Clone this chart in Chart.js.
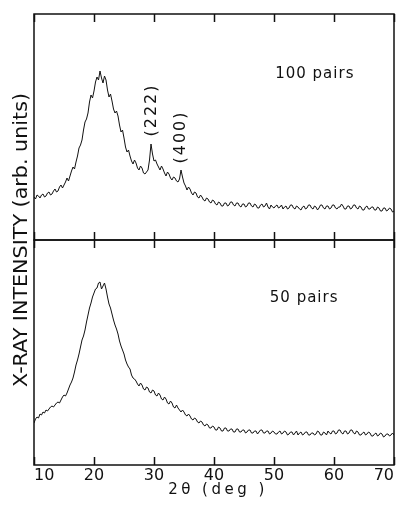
<!DOCTYPE html>
<html>
<head>
<meta charset="utf-8">
<script src="https://cdn.jsdelivr.net/npm/chart.js@4.4.1/dist/chart.umd.min.js"></script>
<style>
  html, body { margin: 0; background: #fff; }
  #wrap { position: relative; width: 403px; height: 507px; overflow: hidden; }
  #wrap canvas { position: absolute; left: 0; top: 0; }
</style>
</head>
<body>
<div id="wrap">
  <canvas id="top" width="403" height="507"></canvas>
  <canvas id="bottom" width="403" height="507"></canvas>
</div>
<script>
// 2theta sampling of the scans (deg)
const angles = [
  10, 10.25, 10.5, 10.75, 11, 11.25, 11.5, 11.75,
  12, 12.25, 12.5, 12.75, 13, 13.25, 13.5, 13.75,
  14, 14.25, 14.5, 14.75, 15, 15.25, 15.5, 15.75,
  16, 16.25, 16.5, 16.75, 17, 17.25, 17.5, 17.75,
  18, 18.25, 18.5, 18.75, 19, 19.25, 19.5, 19.75,
  20, 20.25, 20.5, 20.75, 21, 21.25, 21.5, 21.75,
  22, 22.25, 22.5, 22.75, 23, 23.25, 23.5, 23.75,
  24, 24.25, 24.5, 24.75, 25, 25.25, 25.5, 25.75,
  26, 26.25, 26.5, 26.75, 27, 27.25, 27.5, 27.75,
  28, 28.25, 28.5, 28.75, 29, 29.25, 29.5, 29.75,
  30, 30.25, 30.5, 30.75, 31, 31.25, 31.5, 31.75,
  32, 32.25, 32.5, 32.75, 33, 33.25, 33.5, 33.75,
  34, 34.25, 34.5, 34.75, 35, 35.25, 35.5, 35.75,
  36, 36.25, 36.5, 36.75, 37, 37.25, 37.5, 37.75,
  38, 38.25, 38.5, 38.75, 39, 39.25, 39.5, 39.75,
  40, 40.25, 40.5, 40.75, 41, 41.25, 41.5, 41.75,
  42, 42.25, 42.5, 42.75, 43, 43.25, 43.5, 43.75,
  44, 44.25, 44.5, 44.75, 45, 45.25, 45.5, 45.75,
  46, 46.25, 46.5, 46.75, 47, 47.25, 47.5, 47.75,
  48, 48.25, 48.5, 48.75, 49, 49.25, 49.5, 49.75,
  50, 50.25, 50.5, 50.75, 51, 51.25, 51.5, 51.75,
  52, 52.25, 52.5, 52.75, 53, 53.25, 53.5, 53.75,
  54, 54.25, 54.5, 54.75, 55, 55.25, 55.5, 55.75,
  56, 56.25, 56.5, 56.75, 57, 57.25, 57.5, 57.75,
  58, 58.25, 58.5, 58.75, 59, 59.25, 59.5, 59.75,
  60, 60.25, 60.5, 60.75, 61, 61.25, 61.5, 61.75,
  62, 62.25, 62.5, 62.75, 63, 63.25, 63.5, 63.75,
  64, 64.25, 64.5, 64.75, 65, 65.25, 65.5, 65.75,
  66, 66.25, 66.5, 66.75, 67, 67.25, 67.5, 67.75,
  68, 68.25, 68.5, 68.75, 69, 69.25, 69.5, 69.75,
  70
]

// intensity, arb. units (100 pairs sample)
const pairs100 = [
  43, 41, 45, 44, 42, 45, 46, 43,
  44, 47, 48, 45, 46, 49, 51, 48,
  49, 53, 55, 52, 55, 58, 62, 59,
  64, 69, 73, 71, 78, 84, 92, 95,
  100, 110, 118, 121, 127, 138, 145, 142,
  149, 158, 163, 160, 169, 162, 157, 164,
  160, 150, 143, 146, 139, 131, 127, 129,
  124, 115, 108, 110, 102, 93, 88, 90,
  84, 79, 76, 80, 77, 72, 70, 74,
  72, 67, 66, 68, 70, 80, 96, 86,
  79, 80, 76, 73, 70, 74, 71, 67,
  64, 68, 66, 62, 60, 63, 62, 59,
  58, 61, 70, 63, 57, 54, 50, 53,
  51, 47, 45, 48, 47, 43, 42, 45,
  43, 40, 39, 42, 41, 38, 37, 40,
  39, 36, 35, 38, 37, 34, 34, 37,
  37, 34, 35, 38, 38, 35, 34, 37,
  37, 34, 33, 36, 36, 33, 34, 37,
  37, 34, 33, 36, 35, 32, 32, 35,
  36, 33, 34, 37, 33, 31, 35, 33,
  32, 34, 35, 32, 33, 35, 31, 33,
  34, 31, 32, 35, 35, 32, 31, 34,
  33, 31, 30, 33, 34, 31, 32, 35,
  35, 32, 31, 34, 33, 30, 32, 35,
  35, 32, 31, 34, 34, 31, 32, 35,
  35, 32, 31, 33, 33, 36, 34, 31,
  31, 34, 34, 31, 32, 35, 35, 32,
  31, 34, 33, 30, 30, 33, 34, 31,
  31, 33, 33, 30, 30, 33, 32, 29,
  29, 32, 32, 29, 30, 32, 31, 28,
  29
]

// intensity, arb. units (50 pairs sample)
const pairs50 = [
  42, 46, 48, 47, 51, 50, 53, 52,
  55, 54, 56, 58, 59, 58, 60, 62,
  63, 62, 65, 68, 70, 69, 72, 76,
  80, 83, 87, 93, 100, 105, 111, 118,
  125, 129, 135, 143, 150, 157, 162, 168,
  172, 176, 177, 182, 183, 176, 179, 182,
  176, 168, 161, 157, 151, 145, 140, 136,
  131, 124, 119, 115, 111, 105, 101, 98,
  96, 90, 87, 86, 84, 81, 79, 82,
  80, 76, 75, 78, 77, 73, 72, 75,
  74, 70, 69, 72, 70, 66, 65, 68,
  66, 62, 61, 64, 62, 58, 57, 60,
  57, 55, 53, 55, 53, 50, 49, 51,
  49, 46, 45, 47, 46, 43, 42, 44,
  43, 40, 39, 41, 40, 37, 37, 39,
  38, 35, 35, 38, 37, 34, 34, 37,
  37, 34, 34, 36, 36, 33, 33, 36,
  36, 33, 33, 35, 35, 32, 33, 35,
  35, 32, 32, 34, 34, 31, 33, 35,
  35, 32, 32, 34, 34, 31, 32, 34,
  33, 31, 31, 33, 34, 31, 32, 34,
  33, 30, 31, 33, 33, 30, 32, 34,
  30, 32, 33, 30, 31, 33, 33, 30,
  30, 32, 32, 30, 31, 34, 33, 30,
  30, 33, 32, 30, 34, 32, 31, 34,
  34, 31, 32, 35, 35, 32, 31, 34,
  34, 31, 32, 35, 35, 32, 31, 34,
  33, 30, 30, 32, 33, 30, 31, 33,
  32, 29, 29, 31, 32, 29, 30, 32,
  31, 28, 29, 31, 31, 29, 30, 32,
  30
]

const xTicks = [10, 20, 30, 40, 50, 60, 70]
const xTickLabels = ["10", "20", "30", "40", "50", "60", "70"]

const ink = "#111"
const font = "DejaVu Sans"

// box round each panel with inward ticks top and bottom
const framePlugin = {
  id: "frame",
  afterDraw(chart) {
    const { ctx, chartArea: a } = chart
    const x = chart.scales.x
    ctx.save()
    ctx.strokeStyle = ink
    ctx.lineWidth = 1.5
    ctx.strokeRect(a.left, a.top, a.right - a.left, a.bottom - a.top)
    ctx.beginPath()
    xTicks.forEach(v => {
      const px = Math.round(x.getPixelForValue(v)) + 0.5
      ctx.moveTo(px, a.top)
      ctx.lineTo(px, a.top + 8)
      ctx.moveTo(px, a.bottom)
      ctx.lineTo(px, a.bottom - 8)
    })
    ctx.stroke()
    ctx.restore()
  }
}

function label(chart, text, xv, yv, opts = {}) {
  const { ctx } = chart
  const px = chart.scales.x.getPixelForValue(xv)
  const py = chart.scales.y.getPixelForValue(yv)
  ctx.save()
  ctx.fillStyle = ink
  ctx.font = (opts.size || 15) + "px \"" + font + "\""
  ctx.letterSpacing = (opts.spacing || 1) + "px"
  ctx.translate(px, py)
  if (opts.rotate) ctx.rotate(-Math.PI / 2)
  ctx.textAlign = opts.align || "left"
  ctx.textBaseline = opts.baseline || "alphabetic"
  ctx.fillText(text, 0, 0)
  ctx.restore()
}

const topNotes = {
  id: "topNotes",
  afterDraw(chart) {
    label(chart, "100 pairs", 50.2, 162)
    label(chart, "(222)", 29.7, 130, { rotate: true, align: "center", baseline: "middle", size: 16, spacing: 2 })
    label(chart, "(400)", 34.5, 103, { rotate: true, align: "center", baseline: "middle", size: 16, spacing: 2 })

    // shared y title across both panels
    const { ctx } = chart
    const text = "X-RAY INTENSITY (arb. units)"
    ctx.save()
    ctx.fillStyle = ink
    ctx.font = "20px \"" + font + "\""
    ctx.translate(22, 240)
    ctx.rotate(-Math.PI / 2)
    const w = ctx.measureText(text).width
    ctx.scale(294 / w, 1)
    ctx.textAlign = "center"
    ctx.textBaseline = "middle"
    ctx.fillText(text, 0, 0)
    ctx.restore()
  }
}

const bottomNotes = {
  id: "bottomNotes",
  afterDraw(chart) {
    label(chart, "50 pairs", 49.3, 163)

    // x axis title, letter spaced like the original
    const { ctx, chartArea: a } = chart
    ctx.save()
    ctx.fillStyle = ink
    ctx.font = "15px \"" + font + "\""
    ctx.letterSpacing = "3.5px"
    ctx.textAlign = "center"
    ctx.textBaseline = "alphabetic"
    ctx.fillText("2θ (deg )", (a.left + a.right) / 2 + 4, 494)
    ctx.restore()
  }
}

function series(values) {
  return angles.map((a, i) => ({ x: a, y: values[i] }))
}

function lineDataset(values) {
  return {
    data: series(values),
    borderColor: ink,
    borderWidth: 1,
    pointRadius: 0,
    tension: 0
  }
}

const common = {
  responsive: false,
  maintainAspectRatio: false,
  animation: false,
  plugins: { legend: { display: false }, tooltip: { enabled: false } }
}

new Chart(document.getElementById("top"), {
  type: "line",
  data: { datasets: [lineDataset(pairs100)] },
  options: {
    ...common,
    layout: { padding: { left: 34, right: 9, top: 14, bottom: 267 } },
    scales: {
      x: { type: "linear", min: 10, max: 70, display: false },
      y: { min: 0, max: 226, display: false }
    }
  },
  plugins: [framePlugin, topNotes]
})

new Chart(document.getElementById("bottom"), {
  type: "line",
  data: { datasets: [lineDataset(pairs50)] },
  options: {
    ...common,
    layout: { padding: { left: 34, right: 9, top: 240, bottom: 14 } },
    scales: {
      x: {
        type: "linear",
        min: 10,
        max: 70,
        afterBuildTicks: s => { s.ticks = xTicks.map(v => ({ value: v })) },
        afterFit: s => { s.height = 28 },
        grid: { display: false, drawTicks: false },
        border: { display: false },
        ticks: {
          color: ink,
          padding: 3,
          maxRotation: 0,
          align: "inner",
          font: { family: font, size: 16, lineHeight: 1 },
          callback: (v, i) => xTickLabels[i]
        }
      },
      y: { min: 0, max: 225, display: false }
    }
  },
  plugins: [framePlugin, bottomNotes]
})
</script>
</body>
</html>
